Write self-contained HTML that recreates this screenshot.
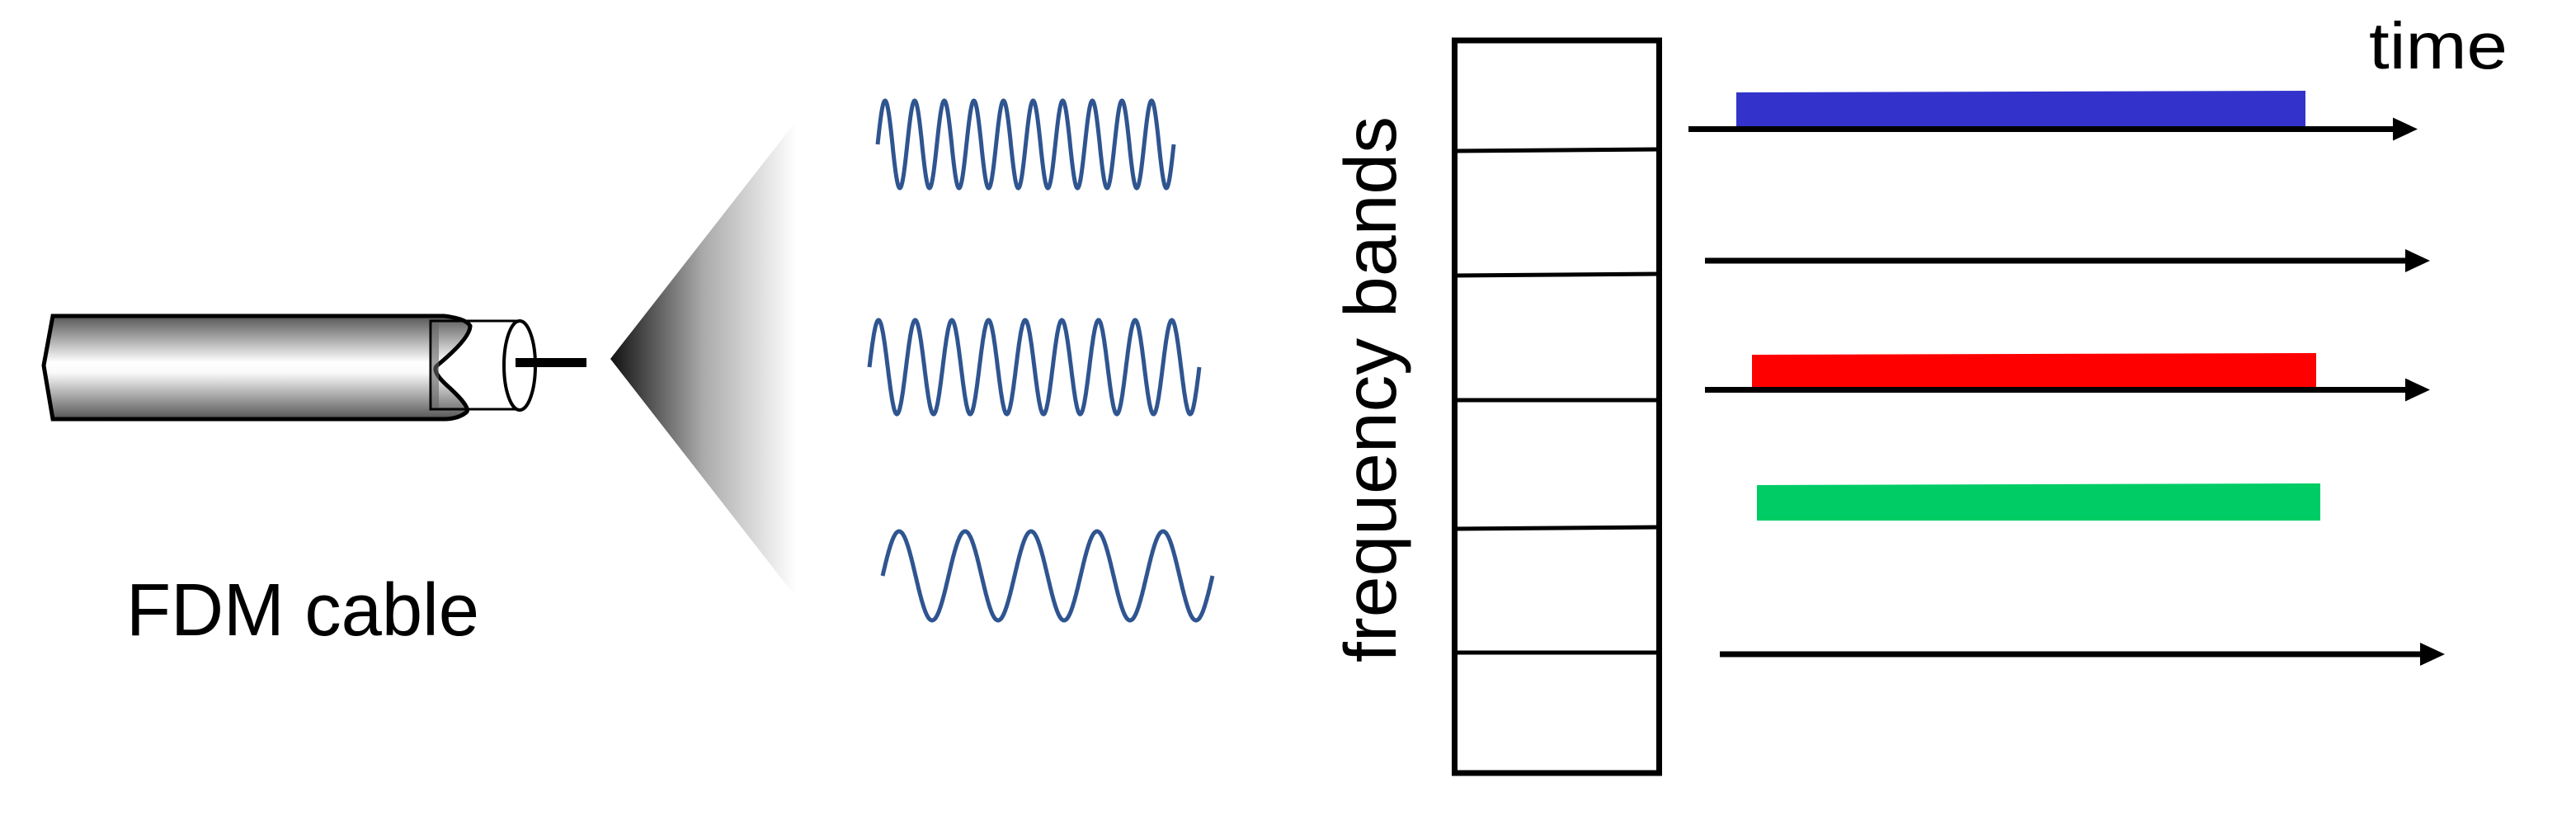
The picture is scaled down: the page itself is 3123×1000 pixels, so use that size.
<!DOCTYPE html>
<html><head><meta charset="utf-8"><style>
html,body{margin:0;padding:0;background:#fff;width:3123px;height:1000px;overflow:hidden}
svg{display:block}
text{font-family:"Liberation Sans",Arial,sans-serif}
</style></head><body>
<svg id="fig" width="3123" height="1000" viewBox="0 0 3123 1000">
<defs>
<linearGradient id="cableGrad" x1="0" y1="0" x2="0" y2="1">
<stop offset="0" stop-color="#555"/><stop offset="0.45" stop-color="#fff"/><stop offset="0.55" stop-color="#fafafa"/><stop offset="1" stop-color="#555"/>
</linearGradient>
<linearGradient id="coneGrad" x1="0" y1="0" x2="1" y2="0">
<stop offset="0" stop-color="#111"/><stop offset="0.5" stop-color="#aaa"/><stop offset="1" stop-color="#fff"/>
</linearGradient>
</defs>
<g>
<path d="M64,383 L538,383 Q565,386 570,395 Q570,410 530,443 Q522,450 545,470 Q572,495 565,500 Q555,508 538,508 L64,508 L53,443 Z" fill="url(#cableGrad)" stroke="#000" stroke-width="5"/>
<rect x="522" y="389" width="103" height="107" fill="none" stroke="#000" stroke-width="3"/>
<rect x="524" y="391" width="8" height="103" fill="#666" opacity="0.6"/>
<ellipse cx="630" cy="443" rx="19" ry="54" fill="#fff" stroke="#000" stroke-width="4"/>
<rect x="625" y="434" width="86" height="11" fill="#000"/>
</g>
<polygon points="740,435 965,147 965,724" fill="url(#coneGrad)"/>
<text x="153" y="770" font-size="90" textLength="428" lengthAdjust="spacingAndGlyphs">FDM cable</text>
<g id="waves"></g>
<g>
<rect x="1763.5" y="49" width="248" height="888" fill="#fff" stroke="#000" stroke-width="7"/>
<line x1="1763" y1="183" x2="2012" y2="181" stroke="#000" stroke-width="5"/>
<line x1="1763" y1="334" x2="2012" y2="332" stroke="#000" stroke-width="5"/>
<line x1="1763" y1="485" x2="2012" y2="485" stroke="#000" stroke-width="5"/>
<line x1="1763" y1="641" x2="2012" y2="639" stroke="#000" stroke-width="5"/>
<line x1="1763" y1="791" x2="2012" y2="791" stroke="#000" stroke-width="5"/>
</g>
<text transform="translate(1692,803) rotate(-90)" font-size="89" textLength="662" lengthAdjust="spacingAndGlyphs">frequency bands</text>
<text x="2872" y="83" font-size="80" textLength="168" lengthAdjust="spacingAndGlyphs">time</text>
<g id="bars"></g>
<g id="arrows"></g>
</svg>
<script>
// waves: [startX, endX, centerY, amplitude, cycles]
const waveStart = [1064, 1054, 1070];
const waveEnd = [1423, 1454, 1470];
const waveCenter = [175, 445, 698];
const waveAmp = [53, 57, 54];
const waveCycles = [10, 9, 5];
// time arrows
const arrowStart = [2047, 2067, 2067, 2085];
const arrowEnd = [2931, 2946, 2946, 2964];
const arrowY = [156.5, 316, 472.5, 793];
// bars
const barNames = ['blue', 'red', 'green'];
const barColors = ['#3333cc', '#ff0000', '#00cc66'];
const barX0 = [2105, 2124, 2130];
const barX1 = [2795, 2808, 2813];
const barTop = [110, 428, 586];
const barBottom = [154, 471, 631];
const NS = 'http://www.w3.org/2000/svg';
const wg = document.getElementById('waves');
for (let i = 0; i < waveStart.length; i++) {
  let d = '';
  const n = 600;
  for (let k = 0; k <= n; k++) {
    const x = waveStart[i] + (waveEnd[i] - waveStart[i]) * k / n;
    const y = waveCenter[i] - waveAmp[i] * Math.sin(2 * Math.PI * waveCycles[i] * k / n);
    d += (k ? 'L' : 'M') + x.toFixed(1) + ',' + y.toFixed(1);
  }
  const p = document.createElementNS(NS, 'path');
  p.setAttribute('d', d);
  p.setAttribute('fill', 'none');
  p.setAttribute('stroke', '#2f5590');
  p.setAttribute('stroke-width', '5');
  
  
  wg.appendChild(p);
}
const ag = document.getElementById('arrows');
for (let i = 0; i < arrowStart.length; i++) {
  const l = document.createElementNS(NS, 'line');
  l.setAttribute('x1', arrowStart[i]); l.setAttribute('x2', arrowEnd[i] - 25);
  l.setAttribute('y1', arrowY[i]); l.setAttribute('y2', arrowY[i]);
  l.setAttribute('stroke', '#000'); l.setAttribute('stroke-width', '7');
  
  
  ag.appendChild(l);
  const h = document.createElementNS(NS, 'polygon');
  const e = arrowEnd[i], y = arrowY[i];
  h.setAttribute('points', (e - 30) + ',' + (y - 14) + ' ' + e + ',' + y + ' ' + (e - 30) + ',' + (y + 14));
  h.setAttribute('fill', '#000');
  
  
  ag.appendChild(h);
}
const bg = document.getElementById('bars');
for (let i = 0; i < barNames.length; i++) {
  const r = document.createElementNS(NS, 'polygon');
  r.setAttribute('points', barX0[i] + ',' + (barTop[i] + 2) + ' ' + barX1[i] + ',' + barTop[i] + ' ' + barX1[i] + ',' + barBottom[i] + ' ' + barX0[i] + ',' + barBottom[i]);
  r.setAttribute('fill', barColors[i]);
  
  
  bg.appendChild(r);
}
</script>
</body></html>
